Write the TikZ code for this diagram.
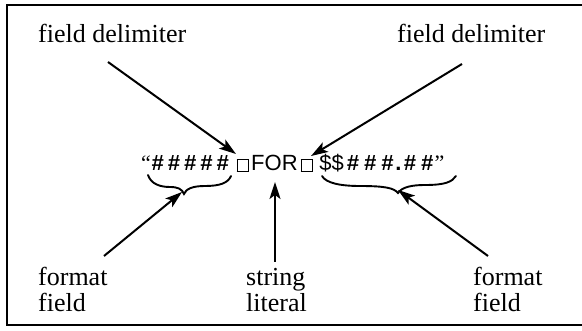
\documentclass[tikz,border=0pt]{standalone}
\usepackage{fontspec}
\setmainfont{Liberation Serif}
\newfontfamily\hv{Liberation Sans}
\usetikzlibrary{arrows.meta}
\newcommand{\lbl}[1]{\fontsize{26}{25}\selectfont\begin{tabular}[t]{@{}l@{}}#1\end{tabular}}
\newcommand{\bx}{{\setlength\fboxrule{0.8pt}\setlength\fboxsep{0pt}\fbox{\rule{0pt}{11pt}\rule{11pt}{0pt}}}}
\newcommand{\hsh}{{\hv\bfseries\itshape\#}}
\begin{document}
\begin{tikzpicture}[x=1pt,y=-1pt,
  lab/.style={inner sep=0pt,anchor=base west},
  arr/.style={line width=2pt,-{Stealth[length=17pt,width=11pt,inset=4pt]}},
  brc/.style={line width=1.9pt,line cap=round}]
\useasboundingbox (0,0) rectangle (582,331);
\draw[line width=1.4pt] (582,5) -- (7,5) -- (7,325) -- (582,325);
% labels
\node[lab] (fd1) at (38,43) {\lbl{field delimiter}};
\node[lab] (fd2) at (397,43) {\lbl{field delimiter}};
\node[lab] (ff1) at (38,286) {\lbl{format\\field}};
\node[lab] (sl) at (246,286) {\lbl{string\\literal}};
\node[lab] (ff2) at (473,286) {\lbl{format\\field}};
% main string
\node[inner sep=0pt,anchor=base west] (str) at (141,171) {\fontsize{22}{22}\selectfont
 “\hspace{0.5pt}\hsh\hspace{4pt}\hsh\hspace{4pt}\hsh\hspace{4pt}\hsh\hspace{4pt}\hsh\hspace{8pt}\bx\hspace{2pt}{\hv FOR}\hspace{3pt}\bx\hspace{6pt}{\hv \$\$}\hspace{3pt}\hsh\hspace{5pt}\hsh\hspace{5pt}\hsh\hspace{2pt}{\hv\bfseries .}\hspace{2pt}\hsh\hspace{5pt}\hsh\hspace{1.5pt}”};
% targets
\coordinate (t1) at (236,154);
\coordinate (t2) at (311,156);
\coordinate (t3) at (275,182);
\coordinate (t4) at (182,192);
\coordinate (t5) at (398,190);
\coordinate (s1) at (108,62);
\coordinate (s2) at (462,64);
\coordinate (s3) at (275,262);
\coordinate (s4) at (104,256);
\coordinate (s5) at (488,256);
% braces
\draw[brc] (148,175) .. controls (151,184) and (160,187) .. (170,187) .. controls (178,187) and (182,189) .. (184,194) .. controls (186,189) and (192,186) .. (205,186) .. controls (220,186) and (228,183) .. (231,176);
\draw[brc] (322,176) .. controls (326,183) and (340,186) .. (360,186) .. controls (385,186) and (394,188) .. (398,193) .. controls (402,187) and (412,185) .. (425,185) .. controls (445,185) and (452,182) .. (456,176);
% arrows
\draw[arr] (s1) -- (t1);
\draw[arr] (s2) -- (t2);
\draw[arr] (s3) -- (t3);
\draw[arr] (s4) -- (t4);
\draw[arr] (s5) -- (t5);
\end{tikzpicture}
\end{document}
